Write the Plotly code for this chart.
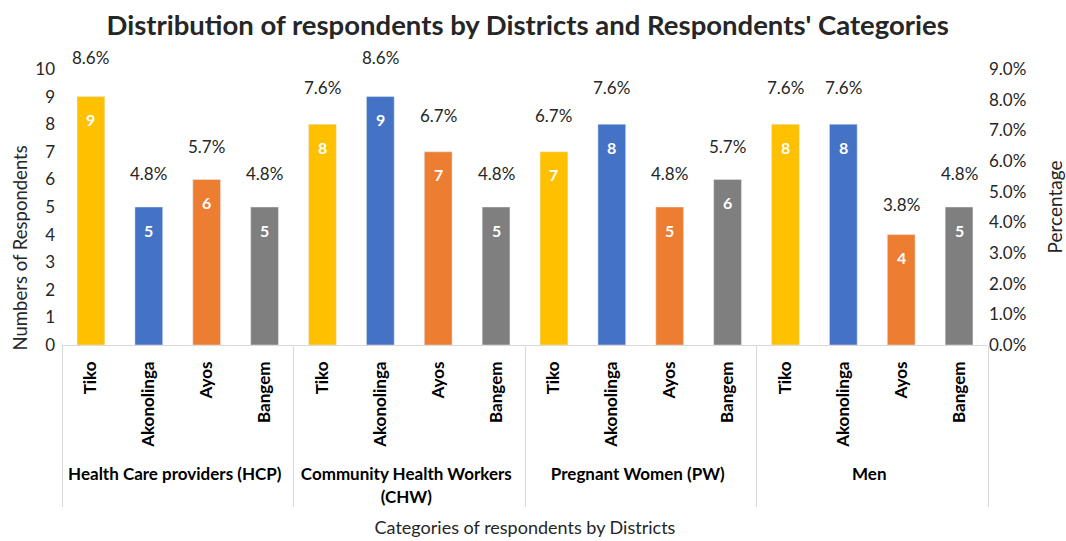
import plotly.graph_objects as go

groups = ["Health Care providers (HCP)", "Community Health Workers<br>(CHW)", "Pregnant Women (PW)", "Men"]
districts = ["Tiko", "Akonolinga", "Ayos", "Bangem"]
counts = [9, 5, 6, 5, 8, 9, 7, 5, 7, 8, 5, 6, 8, 8, 4, 5]
percents = [8.6, 4.8, 5.7, 4.8, 7.6, 8.6, 6.7, 4.8, 6.7, 7.6, 4.8, 5.7, 7.6, 7.6, 3.8, 4.8]
district_colors = {"Tiko": "#FFC000", "Akonolinga": "#4472C4", "Ayos": "#ED7D31", "Bangem": "#7F7F7F"}

PAD = "\u00a0\u00a0"  # keeps rotated district labels a little below the axis line
outer = [f"<b>{g}</b>" for g in groups for _ in districts]
inner = [f"<b>{d}</b>{PAD}" for _ in groups for d in districts]
colors = [district_colors[d] for _ in groups for d in districts]

FONT = "Lato"

fig = go.Figure()
fig.add_trace(go.Bar(x=[outer, inner], y=counts, marker_color=colors, width=0.48,
                     showlegend=False, hoverinfo="y"))
fig.add_trace(go.Scatter(x=[outer, inner], y=[p / 100 for p in percents], yaxis="y2",
                         mode="markers", marker=dict(opacity=0), showlegend=False,
                         hoverinfo="skip"))

annotations = []
for i, (c, p) in enumerate(zip(counts, percents)):
    annotations.append(dict(x=i, y=c, xref="x", yref="y", text=f"<b>{c}</b>", showarrow=False,
                            yshift=-23, font=dict(family=FONT, size=16, color="white")))
    annotations.append(dict(x=i, y=p / 100, xref="x", yref="y2", text=f"{p:.1f}%", showarrow=False,
                            yshift=24, font=dict(family=FONT, size=17, color="#262626")))

# y-axis title (Excel places it slightly below the plot centre)
annotations.append(dict(text="Numbers of Respondents", xref="paper", yref="paper", x=0, y=0.35,
                        xanchor="center", yanchor="middle", xshift=-42, textangle=-90,
                        showarrow=False, font=dict(family=FONT, size=18.5, color="#262626")))

fig.update_layout(
    width=1066, height=541,
    margin=dict(l=62, r=78, t=69, b=196, autoexpand=False),
    paper_bgcolor="white", plot_bgcolor="white",
    font=dict(family=FONT, size=16, color="#262626"),
    title=dict(text="<b>Distribution of respondents by Districts and Respondents' Categories</b>",
               x=0.495, xanchor="center", y=0.953, yanchor="middle",
               font=dict(family=FONT, size=27.5, color="#262626")),
    xaxis=dict(type="multicategory", range=[-0.5, 15.5], tickangle=-90,
               showline=True, linecolor="#D9D9D9",
               showdividers=True, dividercolor="#D9D9D9", dividerwidth=1,
               tickfont=dict(family=FONT, size=17, color="#000000"),
               showgrid=False, automargin=False,
               title=dict(text="Categories of respondents by Districts",
                          font=dict(family=FONT, size=18, color="#262626"), standoff=15)),
    yaxis=dict(range=[0, 10], dtick=1, showgrid=False, zeroline=False, automargin=False,
               tickfont=dict(family=FONT, size=17, color="#262626"), ticklabelstandoff=6),
    yaxis2=dict(range=[0, 0.09], dtick=0.01, tickformat=".1%", overlaying="y", side="right",
                showgrid=False, zeroline=False, automargin=False,
                tickfont=dict(family=FONT, size=17, color="#262626"),
                title=dict(text="Percentage", font=dict(family=FONT, size=19), standoff=26)),
    annotations=annotations,
)

fig.write_html("out.html")
